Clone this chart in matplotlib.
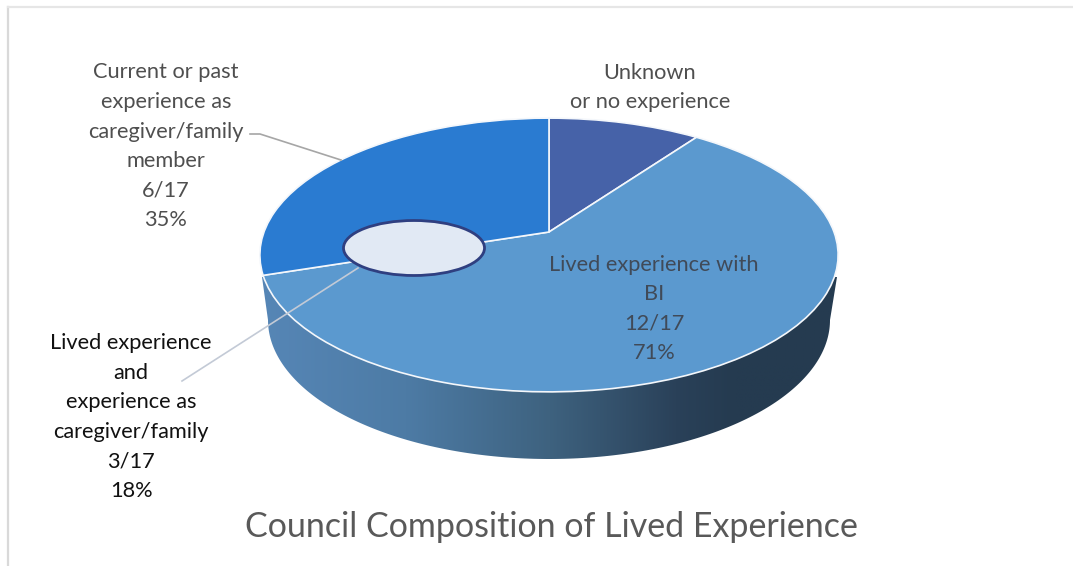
import matplotlib
matplotlib.use('Agg')
import matplotlib.pyplot as plt
import numpy as np
from matplotlib.colors import LinearSegmentedColormap
from matplotlib.patches import Ellipse, Polygon
from matplotlib.transforms import Transform

plt.rcParams['font.family'] = ['Lato', 'DejaVu Sans']

# slice sizes as drawn (the printed % in the labels do not add up to 100)
slice_names = ['Unknown', 'Lived experience with BI', 'Current or past caregiver']
slice_sizes = [10, 60, 30]
slice_colors = ['#4662a8', '#5b99cf', '#2a7bd1']

unknown_label = 'Unknown\nor no experience'
lived_label = 'Lived experience with\nBI\n12/17\n71%'
caregiver_label = 'Current or past\nexperience as\ncaregiver/family\nmember\n6/17\n35%'
both_label = 'Lived experience\nand\nexperience as\ncaregiver/family\n3/17\n18%'
title = 'Council Composition of Lived Experience'


class TiltedPie(Transform):
    # perspective of the pie top: unit circle -> figure pixels
    input_dims = 2
    output_dims = 2

    def transform_non_affine(self, values):
        values = np.asarray(values)
        w = 1 + 0.168 * values[:, 1]
        return np.column_stack([549 + 285 * values[:, 0] / w, 232 - 133 * values[:, 1] / w])


fig = plt.figure(figsize=(10.73, 5.66), dpi=100)
ax = fig.add_axes([0, 0, 1, 1])

wedges, _ = ax.pie(slice_sizes, colors=slice_colors, startangle=90, counterclock=False,
                   wedgeprops=dict(edgecolor='#f4f7fb', linewidth=1.2))
ax.set_aspect('auto')

# side wall of the pie
t = np.linspace(0, np.pi, 200)
wall = np.column_stack([549 + 281 * np.cos(t), 320 + 139 * np.sin(t)])
wall = np.vstack([[837, 277], wall, [262, 277]])
wall_patch = Polygon(wall, closed=True, transform=ax.transData, facecolor='none', edgecolor='none')
ax.add_patch(wall_patch)
wall_cmap = LinearSegmentedColormap.from_list(
    'wall', [(0, '#5686b6'), (0.25, '#4d7ba5'), (0.5, '#3e627f'), (0.72, '#2a4159'), (0.82, '#253b50'), (1, '#253b50')])
img = ax.imshow(np.linspace(0, 1, 256)[None, :], cmap=wall_cmap, extent=(262, 838, 460, 270),
                aspect='auto', zorder=1)
img.set_clip_path(wall_patch)

persp = TiltedPie()
for w in wedges:
    w.set_transform(persp + ax.transData)
    w.set_zorder(2)

ax.add_patch(Ellipse((414, 248), 141, 55, facecolor='#e1e9f4', edgecolor='#2f3f80', linewidth=2, zorder=3))

# leader lines
ax.plot([250, 260, 341], [134, 134, 160], color='#a6a6a6', linewidth=1.2, zorder=4)
ax.plot([182, 358], [381, 268], color='#c3cad6', linewidth=1.2, zorder=4)

ax.text(650, 87.5, unknown_label, ha='center', va='center', fontsize=15.7, color='#4f4f4f', linespacing=1.6)
ax.text(654, 309, lived_label, ha='center', va='center', fontsize=15.7, color='#404a58', linespacing=1.6, zorder=5)
ax.text(166, 146.5, caregiver_label, ha='center', va='center', fontsize=15.7, color='#4f4f4f', linespacing=1.6)
ax.text(131, 417, both_label, ha='center', va='center', fontsize=15.7, color='#111111', linespacing=1.6)
ax.text(551, 527, title, ha='center', va='center', fontsize=24.5, color='#595959')

# chart border
ax.plot([8, 8], [7, 566], color='#d9d9d9', linewidth=1.6, zorder=0)
ax.plot([8, 1073], [7, 7], color='#e6e6e6', linewidth=1.6, zorder=0)

ax.set_xlim(0, 1073)
ax.set_ylim(566, 0)
ax.axis('off')

fig.savefig('out.png', dpi=100)
